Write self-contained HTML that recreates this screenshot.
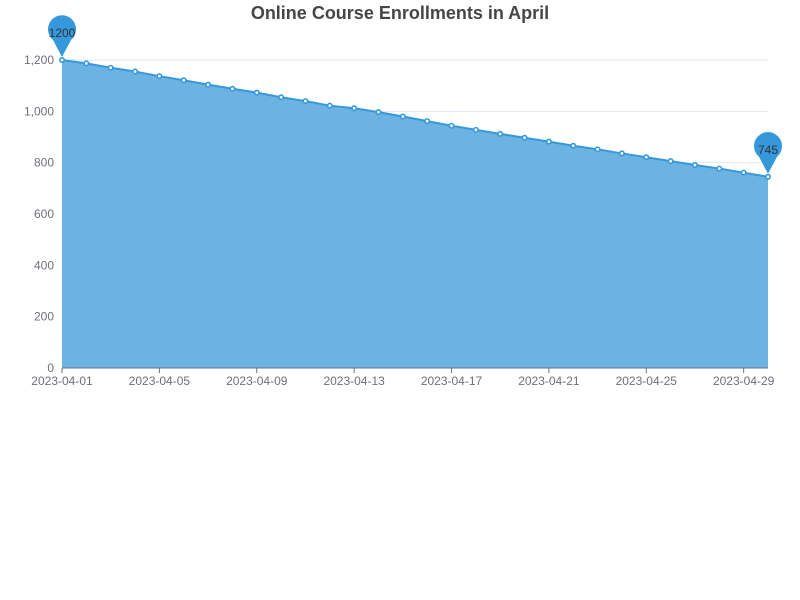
<!DOCTYPE html>
<html><head><meta charset="utf-8"><style>
html,body{margin:0;padding:0;background:#fff;}
svg{display:block;font-family:"Liberation Sans",sans-serif;}
</style></head><body>
<svg id="chart" width="800" height="600">
<text x="400" y="19" text-anchor="middle" font-size="18" font-weight="bold" fill="#464646">Online Course Enrollments in April</text>
<g id="grid"></g><g id="area"></g><g id="axes"></g><g id="pts"></g><g id="pins"></g>
</svg>
<script>
const dates = [];
for (let i = 1; i <= 30; i++) dates.push('2023-04-' + String(i).padStart(2, '0'));
const enrollments = [1200,1187,1170,1155,1137,1121,1104,1088,1073,1055,1040,1022,1012,997,980,962,944,928,912,897,882,866,852,836,821,806,791,777,761,745];
const yTicks = [0,200,400,600,800,1000,1200];
const yTickLabels = ['0','200','400','600','800','1,000','1,200'];
const x0=62,x1=768,yTop=60,yBot=368,yMax=1200;
const ns='http://www.w3.org/2000/svg';
const xs=i=>x0+(x1-x0)*i/(dates.length-1);
const ys=v=>yBot-(yBot-yTop)*v/yMax;
function mk(tag,attrs,parent){const e=document.createElementNS(ns,tag);for(const k in attrs)e.setAttribute(k,attrs[k]);document.getElementById(parent).appendChild(e);return e;}
yTicks.forEach((t,i)=>{
  if(t>0){const l=mk('line',{x1:x0,x2:x1,y1:ys(t),y2:ys(t),stroke:'#e0e6f1'},'grid');
  
  }
  const tx=mk('text',{x:x0-8,y:ys(t)+4,'text-anchor':'end','font-size':12,fill:'#6e7079'},'axes');
  tx.textContent=yTickLabels[i];
  
  
});
let d='M'+xs(0)+','+yBot;
enrollments.forEach((v,i)=>d+=' L'+xs(i)+','+ys(v));
d+=' L'+xs(enrollments.length-1)+','+yBot+' Z';
const ar=mk('path',{d:d,fill:'#6cb2e3'},'area');


const ln=mk('polyline',{points:enrollments.map((v,i)=>xs(i)+','+ys(v)).join(' '),fill:'none',stroke:'#3498db','stroke-width':2},'area');


const ax=mk('line',{x1:x0,x2:x1,y1:yBot,y2:yBot,stroke:'#6e7079'},'axes');


dates.forEach((dt,i)=>{
  if(i%4!==0)return;
  const tk=mk('line',{x1:xs(i),x2:xs(i),y1:yBot,y2:yBot+5,stroke:'#6e7079'},'axes');
  
  
  const tx=mk('text',{x:xs(i),y:yBot+17,'text-anchor':'middle','font-size':12,fill:'#6e7079'},'axes');
  tx.textContent=dt;
  
  
});
enrollments.forEach((v,i)=>{
  const c=mk('circle',{cx:xs(i),cy:ys(v),r:2.2,fill:'#fff',stroke:'#3498db','stroke-width':1.6},'pts');
  
  
});
function pin(i){
  const x=xs(i),y=ys(enrollments[i]);
  const g=mk('g',{},'pins');
  
  
  const p=document.createElementNS(ns,'path');
  p.setAttribute('d',`M${x},${y-3} L${x-9},${y-20} A14,14 0 1 1 ${x+9},${y-20} Z`);
  p.setAttribute('fill','#3498db');g.appendChild(p);
  const t=document.createElementNS(ns,'text');
  t.setAttribute('x',x);t.setAttribute('y',y-23);t.setAttribute('text-anchor','middle');
  t.setAttribute('font-size',12);t.setAttribute('fill','#333');
  t.textContent=enrollments[i];g.appendChild(t);
}
pin(0);pin(enrollments.length-1);
</script>
</body></html>
